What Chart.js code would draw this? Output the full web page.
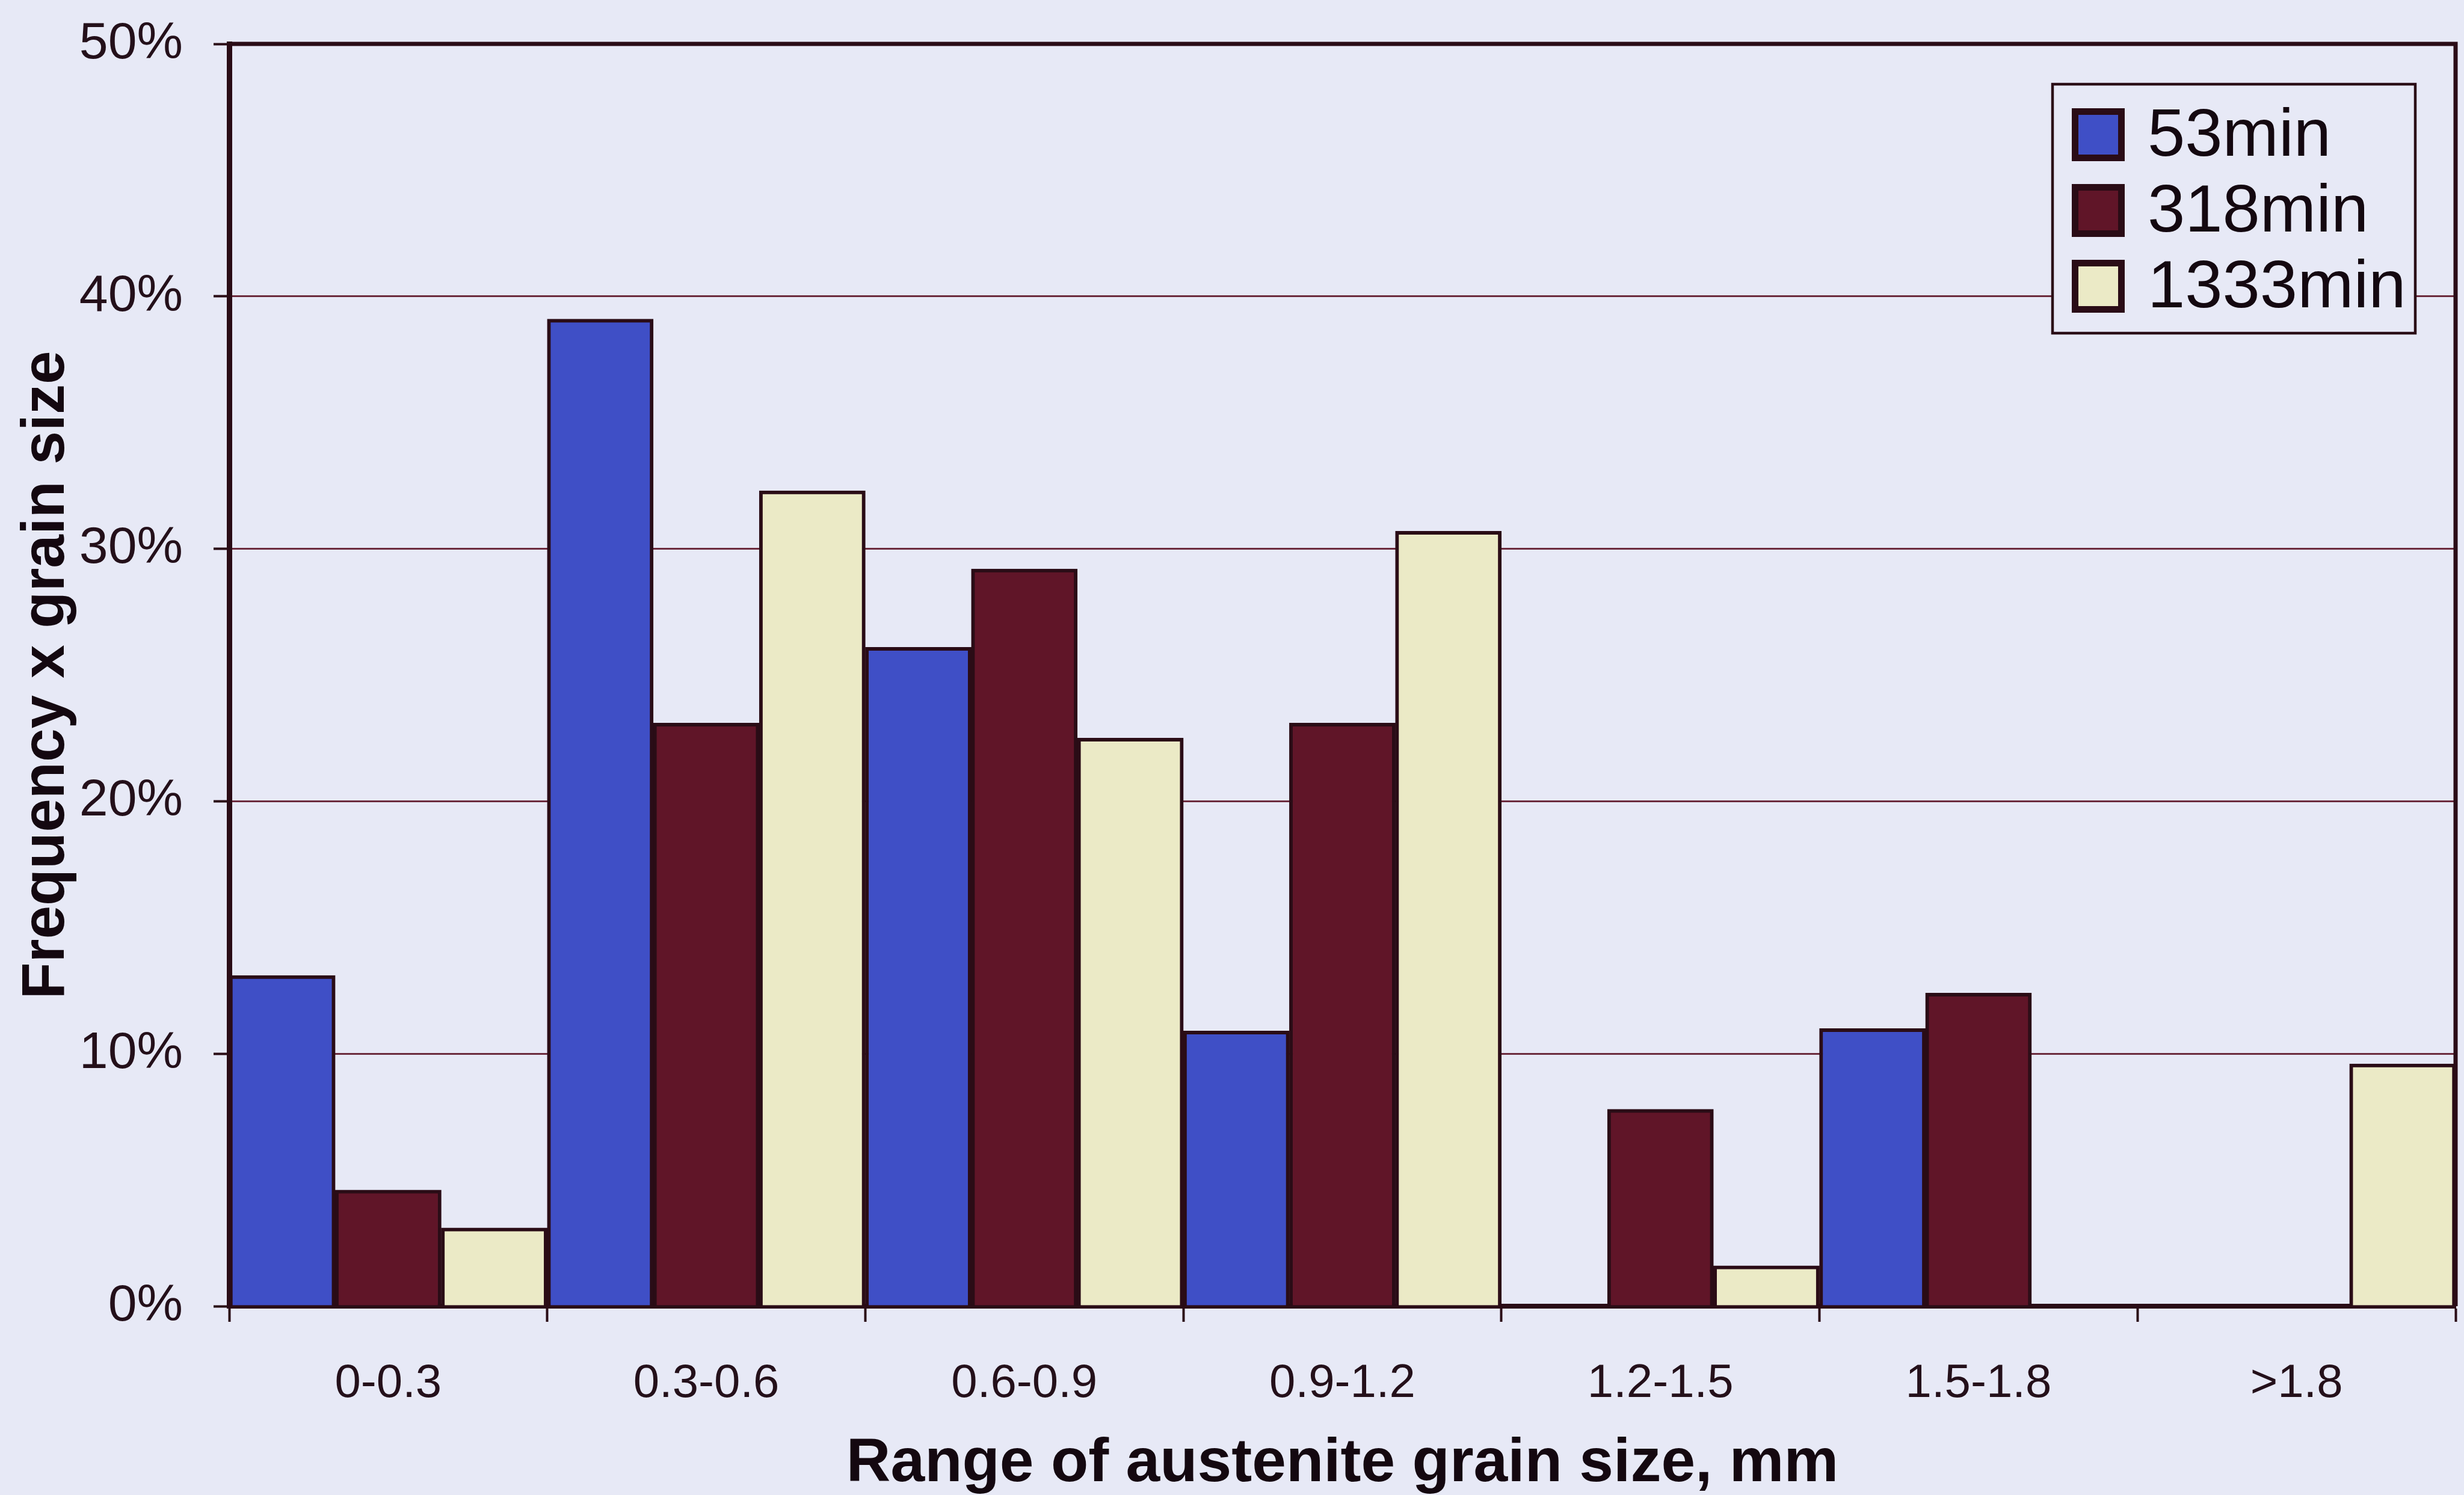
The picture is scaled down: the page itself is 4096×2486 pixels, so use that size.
<!DOCTYPE html>
<html>
<head>
<meta charset="utf-8">
<script src="https://cdn.jsdelivr.net/npm/chart.js@4.4.0/dist/chart.umd.min.js"></script>
<style>
  html, body { margin: 0; padding: 0; background: #e7e9f6; overflow: hidden; }
  canvas { display: block; }
</style>
</head>
<body>
<canvas id="myChart" width="4096" height="2486"></canvas>
<script>
// grain size classes (mm)
var sizeRanges = ['0-0.3', '0.3-0.6', '0.6-0.9', '0.9-1.2', '1.2-1.5', '1.5-1.8', '>1.8'];
// frequency x grain size, in %
var min53 = [13.1, 39.1, 26.1, 10.9, 0, 11.0, 0];
var min318 = [4.6, 23.1, 29.2, 23.1, 7.8, 12.4, 0];
var min1333 = [3.1, 32.3, 22.5, 30.7, 1.6, 0, 9.6];
var seriesNames = ['53min', '318min', '1333min'];
var yTicks = [0, 10, 20, 30, 40, 50];

var dark = '#2a0c16';
var textCol = '#24101a';
var fontFam = '"Liberation Sans", Arial, sans-serif';

// frame round the plot area
var framePlugin = {
  id: 'frame',
  afterDatasetsDraw: function (chart) {
    var a = chart.chartArea, ctx = chart.ctx;
    ctx.save();
    ctx.strokeStyle = dark;
    ctx.lineWidth = 7;
    ctx.beginPath();
    ctx.moveTo(a.left, a.top);
    ctx.lineTo(a.right, a.top);
    ctx.lineTo(a.right, a.bottom);
    ctx.stroke();
    ctx.restore();
  }
};

// boxed legend in the top right corner
var boxLegend = {
  id: 'boxLegend',
  afterDraw: function (chart) {
    var ctx = chart.ctx;
    var bx = 3412, by = 140, bw = 603, bh = 414;
    ctx.save();
    ctx.fillStyle = '#e7e9f6';
    ctx.fillRect(bx, by, bw, bh);
    ctx.strokeStyle = dark;
    ctx.lineWidth = 4.5;
    ctx.strokeRect(bx, by, bw, bh);
    ctx.font = '112px ' + fontFam;
    ctx.textBaseline = 'middle';
    ctx.textAlign = 'left';
    chart.data.datasets.forEach(function (ds, i) {
      var cy = 224 + i * 126;
      ctx.fillStyle = dark;
      ctx.fillRect(3444, cy - 44, 88, 88);
      ctx.fillStyle = ds.backgroundColor;
      ctx.fillRect(3455, cy - 33, 66, 66);
      ctx.fillStyle = '#140810';
      ctx.fillText(ds.label, 3570, cy + 4);
    });
    ctx.restore();
  }
};

var data = {
  labels: sizeRanges,
  datasets: [
    { label: seriesNames[0], data: min53, backgroundColor: '#3f4fc6' },
    { label: seriesNames[1], data: min318, backgroundColor: '#601528' },
    { label: seriesNames[2], data: min1333, backgroundColor: '#ebeac6' }
  ]
};
data.datasets.forEach(function (ds) {
  ds.borderColor = dark;
  ds.borderWidth = 6;
  ds.categoryPercentage = 1;
  ds.barPercentage = 1;
});

var ctx = document.getElementById('myChart');
var myBarChart = new Chart(ctx, {
  type: 'bar',
  data: data,
  plugins: [framePlugin, boxLegend],
  options: {
    responsive: false,
    animation: false,
    devicePixelRatio: 1,
    layout: { padding: { top: 73, right: 14, left: 0, bottom: 0 } },
    plugins: { legend: { display: false }, tooltip: { enabled: false } },
    scales: {
      x: {
        offset: true,
        grid: { display: true, drawOnChartArea: false, offset: true, tickLength: 26, tickColor: dark, tickWidth: 4 },
        border: { display: true, color: dark, width: 8 },
        ticks: { font: { family: fontFam, size: 78 }, color: textCol, padding: 57, maxRotation: 0, autoSkip: false },
        title: {
          display: true, text: 'Range of austenite grain size, mm',
          font: { family: fontFam, size: 102, weight: 'bold', lineHeight: 1.0 }, color: '#140810',
          padding: { top: 0, bottom: 0 }
        },
        afterFit: function (s) { s.height = 314; s.paddingLeft = 0; s.paddingRight = 0; }
      },
      y: {
        min: yTicks[0],
        max: yTicks[yTicks.length - 1],
        afterBuildTicks: function (s) { s.ticks = yTicks.map(function (v) { return { value: v }; }); },
        ticks: {
          callback: function (v) { return v + '%'; },
          font: { family: fontFam, size: 86 }, color: textCol, padding: 51
        },
        grid: { color: '#6c2b3d', lineWidth: 3, tickLength: 26, tickColor: dark, tickWidth: 4 },
        border: { color: dark, width: 9 },
        title: {
          display: true, text: 'Frequency x grain size',
          font: { family: fontFam, size: 100, weight: 'bold' }, color: '#140810',
          padding: { top: 18, bottom: 0 }
        },
        afterFit: function (s) { s.width = 381; s.paddingTop = 0; s.paddingBottom = 0; }
      }
    }
  }
});
</script>
</body>
</html>
